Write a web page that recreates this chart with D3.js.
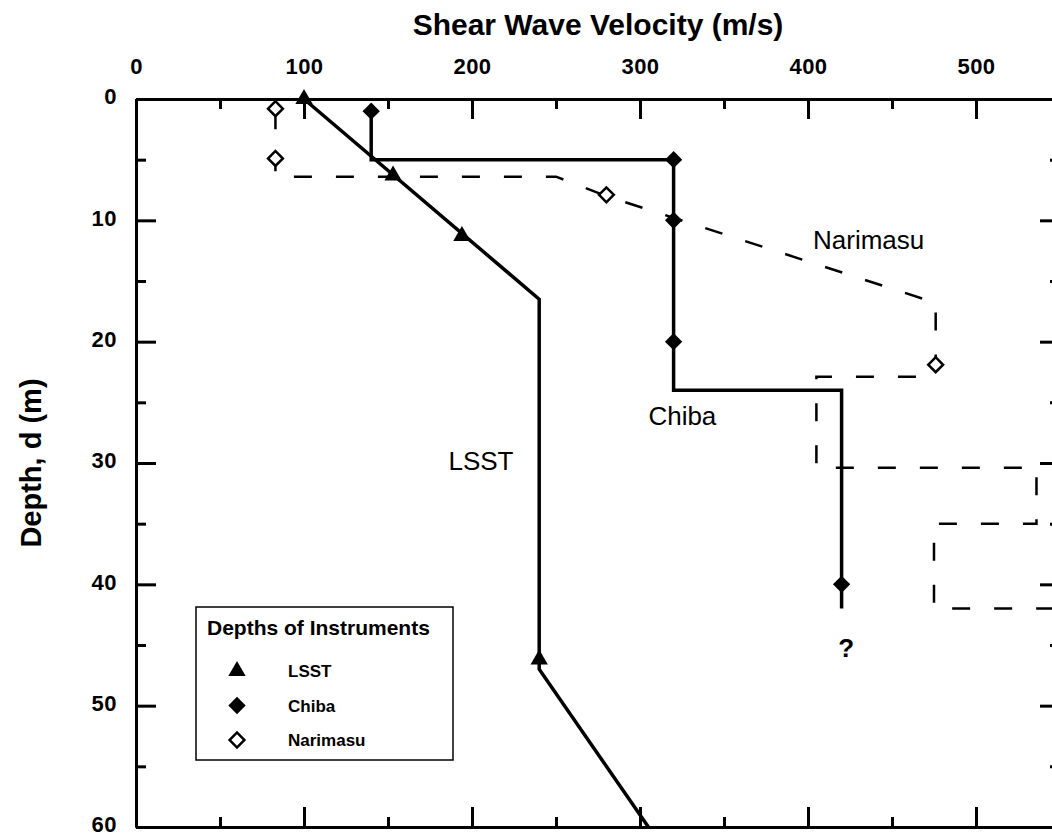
<!DOCTYPE html>
<meta charset="utf-8">
<style>
    body { margin: 0; background: #fff; }
    text { font-family: "Liberation Sans", Arial, sans-serif; fill: #000; }
    .axis path, .axis line { stroke: #000; stroke-width: 3px; }
    .axis text { font-size: 22px; font-weight: bold; letter-spacing: 0.5px; }
    .profile { fill: none; stroke: #000; stroke-width: 3.5px; stroke-linejoin: miter; }
    .dashed { fill: none; stroke: #000; stroke-width: 2.5px; stroke-dasharray: 18, 24; }
</style>
<svg width="1052" height="838"></svg>
<script src="https://cdn.jsdelivr.net/npm/d3@7"></script>
<script>

    // velocity (m/s), depth (m)
    var lsstProfile = [[100, 0], [240, 16.5], [240, 47], [305, 60]];
    var lsstInstruments = [[100, 0], [153, 6.3], [194, 11.3], [240, 46.2]];

    var chibaProfile = [[140, 1], [140, 5], [320, 5], [320, 24], [420, 24], [420, 42]];
    var chibaInstruments = [[140, 1], [320, 5], [320, 10], [320, 20], [420, 40]];

    var narimasuProfile = [[83, 1], [83, 6.4], [250, 6.4], [280, 8], [476, 16.8], [476, 22.9],
        [405, 22.9], [405, 30.4], [536, 30.4], [536, 35], [475, 35], [475, 42], [550, 42]];
    var narimasuInstruments = [[83, 0.8], [83, 4.9], [280, 7.9], [476, 21.9]];

    var xTicks = [0, 100, 200, 300, 400, 500];
    var yTicks = [0, 10, 20, 30, 40, 50, 60];

    var labels = [
        {text: "LSST", v: 186, d: 30.6, bold: false},
        {text: "Chiba", v: 305, d: 26.9, bold: false},
        {text: "Narimasu", v: 403, d: 12.35, bold: false},
        {text: "?", v: 418, d: 46.0, bold: true}
    ];

    var legendItems = ["LSST", "Chiba", "Narimasu"];

    var svg = d3.select("svg");
    var margin = {left: 136, top: 99};
    var width = 924, height = 728;

    var x = d3.scaleLinear().domain([0, 550]).range([0, width]);
    var y = d3.scaleLinear().domain([0, 60]).range([0, height]);

    var g = svg.append("g").attr("transform", "translate(" + margin.left + "," + margin.top + ")");

    var xMinor = d3.range(50, 551, 100);
    var yMinor = d3.range(5, 60, 10);

    // top axis with labels
    g.append("g").attr("class", "axis")
        .call(d3.axisTop(x).tickValues(xTicks).tickSizeInner(-20).tickSizeOuter(0).tickPadding(25));
    g.append("g").attr("class", "axis")
        .call(d3.axisTop(x).tickValues(xMinor).tickSizeInner(-10).tickSizeOuter(0).tickFormat(""));
    // bottom axis
    g.append("g").attr("class", "axis").attr("transform", "translate(0," + height + ")")
        .call(d3.axisBottom(x).tickValues(xTicks).tickSizeInner(-20).tickSizeOuter(0).tickFormat(""));
    g.append("g").attr("class", "axis").attr("transform", "translate(0," + height + ")")
        .call(d3.axisBottom(x).tickValues(xMinor).tickSizeInner(-10).tickSizeOuter(0).tickFormat(""));
    // left axis with labels
    g.append("g").attr("class", "axis yaxis")
        .call(d3.axisLeft(y).tickValues(yTicks).tickSizeInner(-20).tickSizeOuter(0).tickPadding(19));
    g.append("g").attr("class", "axis")
        .call(d3.axisLeft(y).tickValues(yMinor).tickSizeInner(-10).tickSizeOuter(0).tickFormat(""));
    // right axis
    g.append("g").attr("class", "axis").attr("transform", "translate(" + width + ",0)")
        .call(d3.axisRight(y).tickValues(yTicks).tickSizeInner(-20).tickSizeOuter(0).tickFormat(""));
    g.append("g").attr("class", "axis").attr("transform", "translate(" + width + ",0)")
        .call(d3.axisRight(y).tickValues(yMinor).tickSizeInner(-10).tickSizeOuter(0).tickFormat(""));

    g.selectAll(".yaxis .tick text").attr("dy", "0.22em");

    var line = d3.line()
        .x(function (d) { return x(d[0]); })
        .y(function (d) { return y(d[1]); });

    g.append("path").datum(narimasuProfile).attr("class", "dashed").attr("d", line);
    g.append("path").datum(lsstProfile).attr("class", "profile").attr("d", line);
    g.append("path").datum(chibaProfile).attr("class", "profile").attr("d", line);

    var triangle = d3.symbol().type(d3.symbolTriangle).size(130);
    var diamond = d3.symbol().type(d3.symbolSquare).size(150);

    g.selectAll(".lsst").data(lsstInstruments).enter().append("path")
        .attr("d", triangle)
        .attr("transform", function (d) { return "translate(" + x(d[0]) + "," + y(d[1]) + ")"; })
        .attr("fill", "#000");

    g.selectAll(".chiba").data(chibaInstruments).enter().append("path")
        .attr("d", diamond)
        .attr("transform", function (d) { return "translate(" + x(d[0]) + "," + y(d[1]) + ") rotate(45)"; })
        .attr("fill", "#000");

    g.selectAll(".narimasu").data(narimasuInstruments).enter().append("path")
        .attr("d", d3.symbol().type(d3.symbolSquare).size(110))
        .attr("transform", function (d) { return "translate(" + x(d[0]) + "," + y(d[1]) + ") rotate(45)"; })
        .attr("fill", "#fff")
        .attr("stroke", "#000")
        .attr("stroke-width", 2.5);

    g.selectAll(".label").data(labels).enter().append("text")
        .attr("x", function (d) { return x(d.v); })
        .attr("y", function (d) { return y(d.d); })
        .style("font-size", "26px")
        .style("font-weight", function (d) { return d.bold ? "bold" : "normal"; })
        .text(function (d) { return d.text; });

    // legend
    var legend = g.append("g").attr("transform", "translate(60,508)");
    legend.append("rect")
        .attr("width", 257).attr("height", 153)
        .attr("fill", "#fff").attr("stroke", "#000").attr("stroke-width", 1.5);
    legend.append("text")
        .attr("x", 11).attr("y", 28)
        .style("font-size", "21px").style("font-weight", "bold")
        .text("Depths of Instruments");
    var items = legend.selectAll(".item").data(legendItems).enter().append("g")
        .attr("transform", function (d, i) { return "translate(0," + (64 + i * 34.5) + ")"; });
    items.append("path")
        .attr("d", function (d, i) {
            return i === 0 ? triangle() : d3.symbol().type(d3.symbolSquare).size(i === 1 ? 150 : 110)();
        })
        .attr("transform", function (d, i) { return "translate(41,0)" + (i === 0 ? "" : " rotate(45)"); })
        .attr("fill", function (d, i) { return i === 2 ? "#fff" : "#000"; })
        .attr("stroke", function (d, i) { return i === 2 ? "#000" : "none"; })
        .attr("stroke-width", 2.5);
    items.append("text")
        .attr("x", 92).attr("y", 6)
        .style("font-size", "17px").style("font-weight", "bold")
        .text(function (d) { return d; });

    // axis titles
    svg.append("text")
        .attr("x", margin.left + width / 2).attr("y", 35)
        .attr("text-anchor", "middle")
        .style("font-size", "30px").style("font-weight", "bold")
        .text("Shear Wave Velocity (m/s)");

    svg.append("text")
        .attr("transform", "translate(31," + (margin.top + height / 2) + ") rotate(-90)")
        .attr("text-anchor", "middle")
        .attr("dy", "0.35em")
        .style("font-size", "29px").style("font-weight", "bold")
        .text("Depth, d (m)");

</script>
